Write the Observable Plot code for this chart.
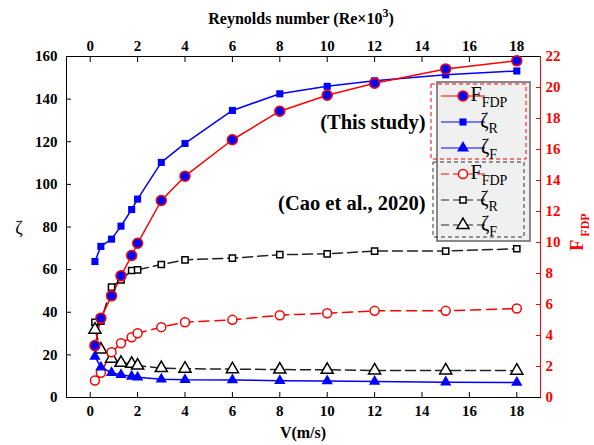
<!DOCTYPE html>
<html><head><meta charset="utf-8">
<script src="https://cdn.jsdelivr.net/npm/d3@7"></script>
<script src="https://cdn.jsdelivr.net/npm/@observablehq/plot@0.6"></script>
<style>body{margin:0;background:#fff} #chart{width:594px;height:445px}</style>
</head><body><div id="chart"></div>
<script>
// Data
const V = [0.2, 0.45, 0.9, 1.3, 1.75, 2, 3, 4, 6, 8, 10, 12, 15, 18];
const zetaR = [63.8, 70.9, 74.3, 80.4, 88.2, 93.1, 110.3, 119.2, 134.7, 142.5, 146.0, 148.6, 151.4, 153.2];
const zetaF = [19.2, 14.2, 11.6, 10.7, 9.9, 9.5, 8.6, 8.3, 8.2, 7.9, 7.7, 7.5, 7.2, 7.0];
const fdp = [3.35, 5.12, 6.56, 7.85, 9.16, 9.95, 12.71, 14.28, 16.63, 18.47, 19.5, 20.28, 21.2, 21.72];
const caoZetaR = [35.3, 35.8, 51.8, 55.2, 59.6, 59.9, 62.4, 64.6, 65.4, 67.0, 67.4, 68.7, 68.7, 69.8];
const caoZetaF = [31.8, 22.5, 18.2, 16.3, 15.8, 15.0, 13.8, 13.5, 13.3, 13.1, 13.0, 12.7, 12.7, 12.6];
const caoFdp = [1.10, 1.59, 2.92, 3.50, 3.89, 4.15, 4.54, 4.86, 5.01, 5.31, 5.44, 5.59, 5.59, 5.74];
const xTicks = [0, 2, 4, 6, 8, 10, 12, 14, 16, 18];
const reTicks = [0, 2, 4, 6, 8, 10, 12, 14, 16, 18];
const yTicks = [0, 20, 40, 60, 80, 100, 120, 140, 160];
const fTicks = [0, 2, 4, 6, 8, 10, 12, 14, 16, 18, 20, 22];

const k = 160 / 22; // right axis (F_FDP, 0–22) mapped onto left axis (ζ, 0–160)
const rows = V.map((v, i) => ({
  v, zr: zetaR[i], zf: zetaF[i], f: fdp[i] * k,
  czr: caoZetaR[i], czf: caoZetaF[i], cf: caoFdp[i] * k
}));

const serif = "'Liberation Serif', 'Times New Roman', serif";
const plot = Plot.plot({
  width: 594, height: 445,
  marginLeft: 66, marginRight: 54, marginTop: 56, marginBottom: 48,
  style: {fontFamily: serif, fontSize: "15px", fontWeight: "bold", background: "white", color: "black"},
  x: {domain: [-1, 19]},
  y: {domain: [0, 160]},
  marks: [
    Plot.axisX(xTicks, {anchor: "bottom", tickSize: -5, tickPadding: 13, label: null}),
    Plot.axisX(reTicks, {anchor: "top", tickSize: -5, tickPadding: 11, label: null}),
    Plot.axisY(yTicks, {anchor: "left", tickSize: -5, tickPadding: 14, label: null}),
    Plot.axisY(fTicks.map(f => f * k), {anchor: "right", tickSize: -5, tickPadding: 10, label: null,
      tickFormat: d => String(Math.round(d / k)), color: "red"}),
    Plot.frame({stroke: "black"}),
    Plot.ruleX([19], {stroke: "red"}),
    // Cao et al. (2020)
    Plot.line(rows, {x: "v", y: "czr", stroke: "#222", strokeDasharray: "10,5"}),
    Plot.line(rows, {x: "v", y: "czf", stroke: "#222", strokeDasharray: "10,5"}),
    Plot.line(rows, {x: "v", y: "cf", stroke: "red", strokeDasharray: "10,6"}),
    // This study
    Plot.line(rows, {x: "v", y: "zr", stroke: "#0000ff"}),
    Plot.line(rows, {x: "v", y: "zf", stroke: "#0000ff"}),
    Plot.line(rows, {x: "v", y: "f", stroke: "red"}),
    Plot.dot(rows, {x: "v", y: "czr", symbol: "square", r: 3.5, fill: "white", stroke: "black"}),
    Plot.dot(rows, {x: "v", y: "czf", symbol: "triangle", r: 4.5, fill: "white", stroke: "black"}),
    Plot.dot(rows, {x: "v", y: "cf", symbol: "circle", r: 4.5, fill: "white", stroke: "red"}),
    Plot.dot(rows, {x: "v", y: "zr", symbol: "square", r: 4, fill: "#0000ff", stroke: "none"}),
    Plot.dot(rows, {x: "v", y: "zf", symbol: "triangle", r: 4.2, fill: "#0000ff", stroke: "none"}),
    Plot.dot(rows, {x: "v", y: "f", symbol: "circle", r: 5, fill: "#0000ff", stroke: "red", strokeWidth: 1.5}),
    Plot.text(["(This study)"], {x: 14.15, y: 129, textAnchor: "end", fontSize: 20.5, fontWeight: "bold"}),
    Plot.text(["(Cao et al., 2020)"], {x: 14.15, y: 91, textAnchor: "end", fontSize: 20.5, fontWeight: "bold"})
  ]
});
document.getElementById("chart").appendChild(plot);

const svg = d3.select(plot);
// axis titles
const topTitle = svg.append("text").attr("x", 301).attr("y", 24).attr("text-anchor", "middle")
  .attr("font-size", 16).attr("font-weight", "bold").attr("font-family", serif);
topTitle.append("tspan").text("Reynolds number (Re×10");
topTitle.append("tspan").attr("dy", -7).attr("font-size", 12).text("3");
topTitle.append("tspan").attr("dy", 7).text(")");
svg.append("text").attr("x", 303).attr("y", 438).attr("text-anchor", "middle")
  .attr("font-size", 16).attr("font-weight", "bold").attr("font-family", serif).text("V(m/s)");
svg.append("text").attr("x", 19).attr("y", 234).attr("text-anchor", "middle")
  .attr("font-size", 18).attr("font-weight", "normal").attr("font-family", serif).text("ζ");
const rightTitle = svg.append("text").attr("transform", "translate(583,232) rotate(-90)").attr("text-anchor", "middle")
  .attr("fill", "red").attr("font-size", 18).attr("font-weight", "bold").attr("font-family", serif);
rightTitle.append("tspan").text("F");
rightTitle.append("tspan").attr("dy", 6).attr("font-size", 12).text(" FDP");

// legend
const lg = svg.append("g").attr("font-family", serif).attr("font-weight", "normal");
lg.append("rect").attr("x", 437).attr("y", 82).attr("width", 93).attr("height", 159)
  .attr("fill", "#f0f0f0").attr("stroke", "#666").attr("stroke-width", 1.5);
lg.append("rect").attr("x", 431).attr("y", 84).attr("width", 95).attr("height", 75)
  .attr("fill", "none").attr("stroke", "red").attr("stroke-dasharray", "4,3");
lg.append("rect").attr("x", 433).attr("y", 162).attr("width", 91).attr("height", 75)
  .attr("fill", "none").attr("stroke", "#333").attr("stroke-dasharray", "4,3");
const items = [
  {main: "F", sub: "FDP", stroke: "red", dash: null, sym: d3.symbolCircle, size: Math.PI * 25, fill: "#0000ff", ms: "red"},
  {main: "ζ", sub: "R", stroke: "#0000ff", dash: null, sym: d3.symbolSquare, size: Math.PI * 16, fill: "#0000ff", ms: "none"},
  {main: "ζ", sub: "F", stroke: "#0000ff", dash: null, sym: d3.symbolTriangle, size: Math.PI * 20, fill: "#0000ff", ms: "none"},
  {main: "F", sub: "FDP", stroke: "red", dash: "8,4", sym: d3.symbolCircle, size: Math.PI * 20, fill: "white", ms: "red"},
  {main: "ζ", sub: "R", stroke: "#222", dash: "8,4", sym: d3.symbolSquare, size: Math.PI * 12, fill: "white", ms: "black"},
  {main: "ζ", sub: "F", stroke: "#222", dash: "8,4", sym: d3.symbolTriangle, size: Math.PI * 20, fill: "white", ms: "black"}
];
const rowsY = [96, 122, 148, 174, 200, 225];
items.forEach((it, i) => {
  const y = rowsY[i];
  lg.append("line").attr("x1", 441).attr("x2", 485).attr("y1", y).attr("y2", y)
    .attr("stroke", it.stroke).attr("stroke-dasharray", it.dash);
  lg.append("path").attr("d", d3.symbol(it.sym, it.size)()).attr("transform", `translate(463,${y})`)
    .attr("fill", it.fill).attr("stroke", it.ms).attr("stroke-width", 1.5);
  const t = lg.append("text").attr("x", 489).attr("y", y + 5).attr("font-size", 20);
  t.append("tspan").text(it.main);
  t.append("tspan").attr("dy", 6).attr("font-size", 14).text(it.sub);
});
</script></body></html>
